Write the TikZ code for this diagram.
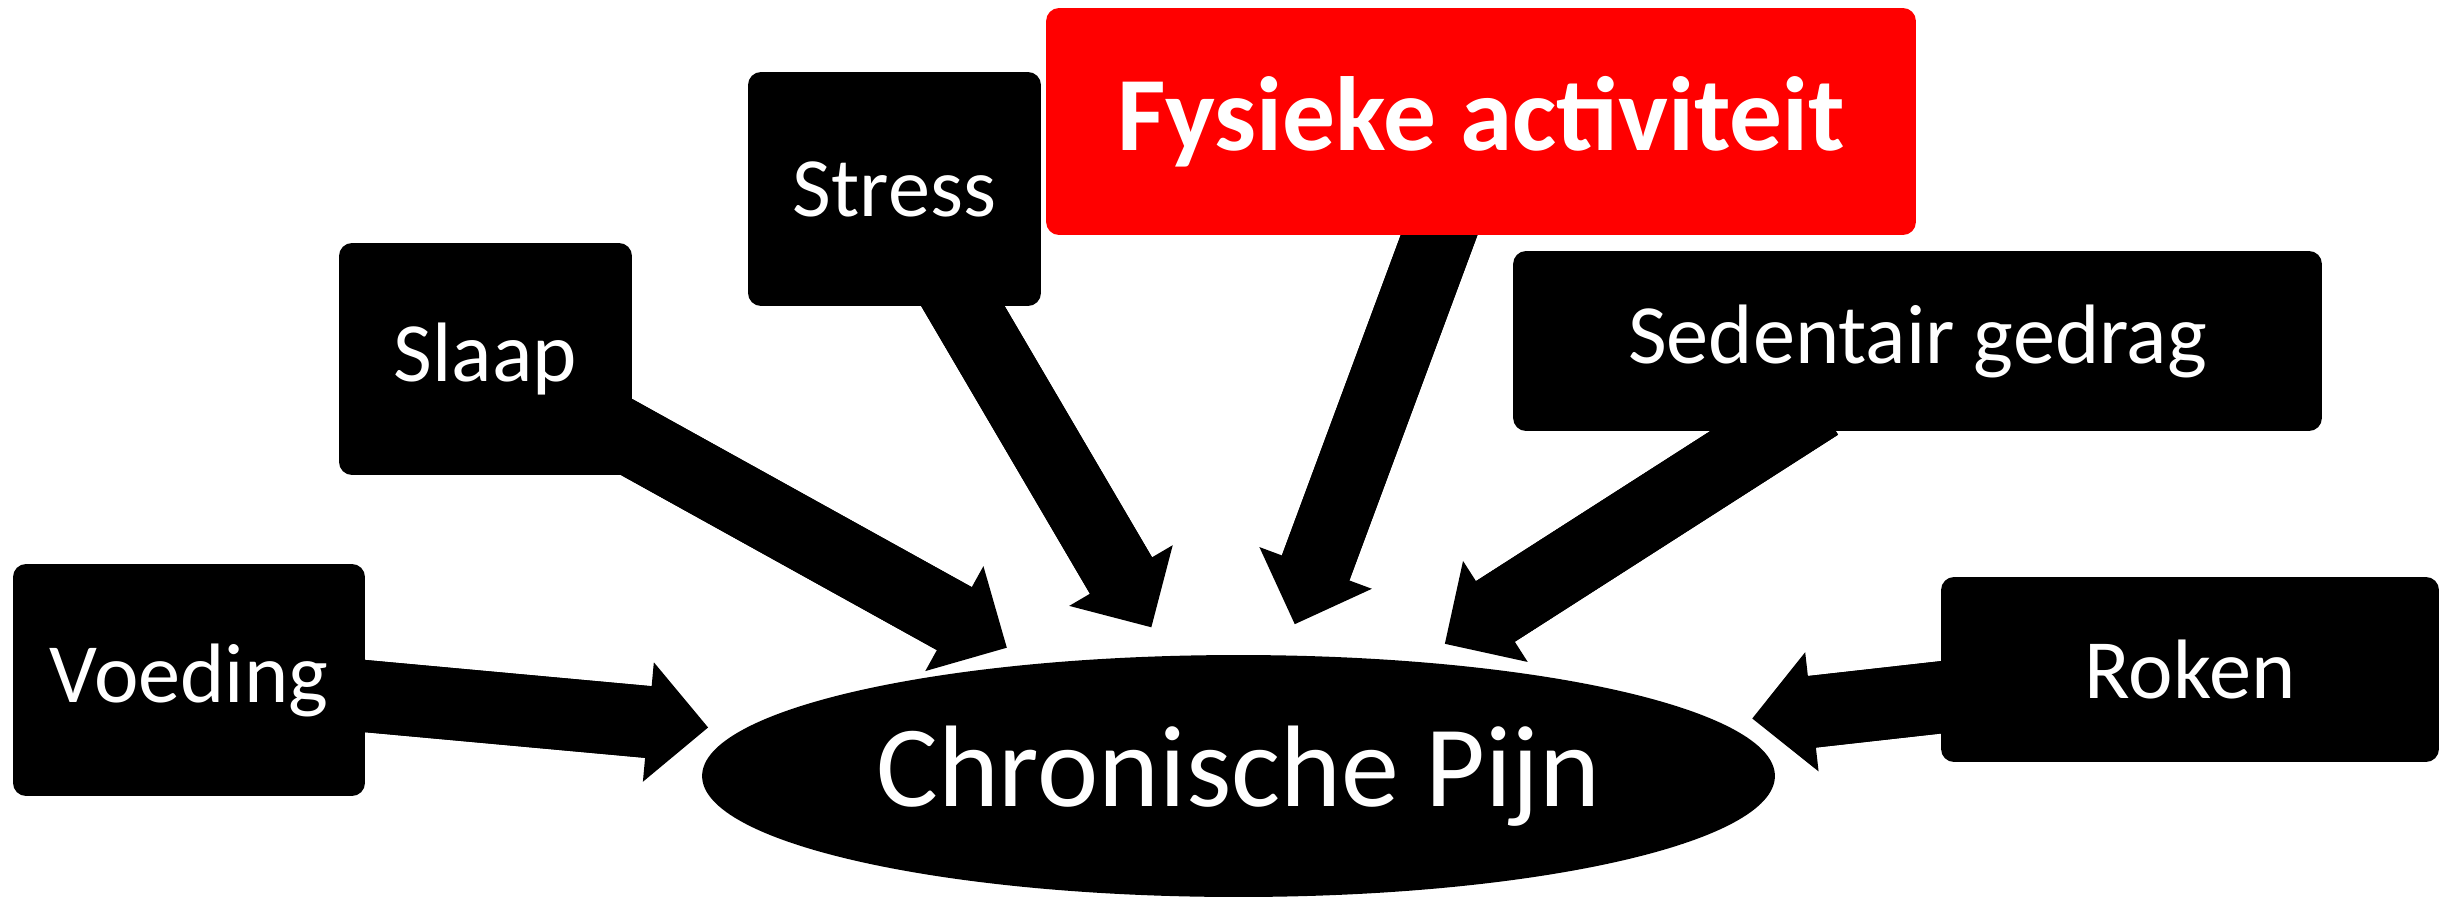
\documentclass[tikz,border=0pt]{standalone}
\usepackage{fontspec}
\setmainfont{Carlito}
\usetikzlibrary{arrows.meta,shapes.geometric}
\pgfdeclarelayer{under}
\pgfsetlayers{under,main}
\definecolor{actred}{RGB}{255,0,0}
\begin{document}
\begin{tikzpicture}[x=0.02cm,y=-0.02cm,
  factor/.style={fill=black, text=white, rounded corners=0.26cm, inner sep=0pt,
    font=\fontsize{48}{56}\selectfont},
  focus/.style={factor, fill=actred, font=\fontsize{60}{70}\selectfont\bfseries},
  outcome/.style={ellipse, fill=black, text=white, inner sep=0pt,
    minimum width=21.46cm, minimum height=4.84cm,
    font=\fontsize{66}{76}\selectfont},
  fat/.style={line width=1.44cm,
    -{Triangle[length=1.2cm,width=2.4cm,line width=0pt]},
    shorten >=0.66cm, shorten <=-1cm},
  % plain shaft reaching a little into the head, hiding the seam
  shaft/.style={line width=1.44cm, shorten >=1.5cm, shorten <=-1cm}]
\useasboundingbox (0,0) rectangle (2458,900);

% outcome
\node[outcome] (pain) at (1238.5,776) {Chronische Pijn};

% influencing factors
\node[factor, minimum width=7.04cm, minimum height=4.64cm] (voeding) at (189,680) {Voeding};
\node[factor, minimum width=5.86cm, minimum height=4.64cm] (slaap) at (485.5,359) {Slaap};
\node[factor, minimum width=5.86cm, minimum height=4.68cm] (stress) at (894.5,189) {Stress};
\node[focus, minimum width=17.4cm, minimum height=4.54cm] (fysiek) at (1481,121.5) {Fysieke activiteit};
\node[factor, minimum width=16.18cm, minimum height=3.6cm] (sedentair) at (1917.5,341) {Sedentair gedrag};
\node[factor, minimum width=9.96cm, minimum height=3.7cm] (roken) at (2190,669.5) {Roken};

% block arrows towards the outcome
\begin{pgfonlayer}{under}
  \foreach \src in {voeding,slaap,stress,fysiek,sedentair,roken}{
    \draw[fat] (\src) -- (pain);
    \draw[shaft] (\src) -- (pain);
  }
\end{pgfonlayer}
\end{tikzpicture}
\end{document}
